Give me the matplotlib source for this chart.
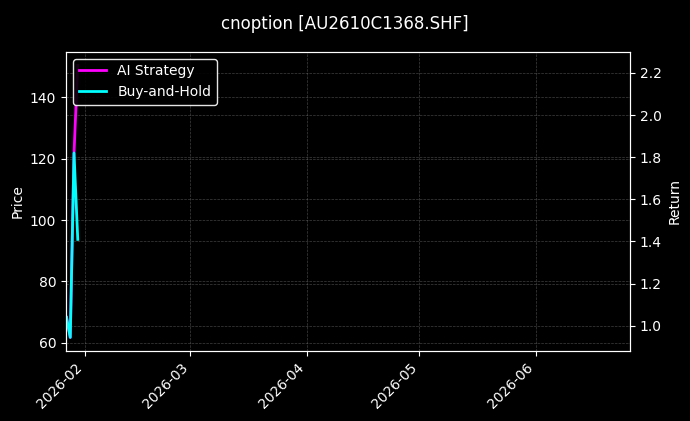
import matplotlib
matplotlib.use("Agg")
import matplotlib.pyplot as plt
import matplotlib.dates as mdates
import numpy as np
import pandas as pd

# values
dates = pd.to_datetime(["2026-01-27", "2026-01-28", "2026-01-29", "2026-01-30"])
ai_strategy = [1.04, 0.945, 1.82, 2.235]
buy_and_hold = [1.04, 0.945, 1.82, 1.41]

plt.style.use("dark_background")

fig = plt.figure(figsize=(6.9, 4.21), dpi=100)
ax = fig.add_axes([0.0957, 0.166, 0.8173, 0.711])
ax2 = ax.twinx()

ax2.plot(dates, ai_strategy, color="#ff00ff", lw=2, label="AI Strategy")
ax2.plot(dates, buy_and_hold, color="#00ffff", lw=2, label="Buy-and-Hold")

ax.set_ylim(57.3, 154.9)
ax2.set_ylim(0.88, 2.30)
ax.set_xlim(pd.Timestamp("2026-01-26 21:00"), pd.Timestamp("2026-06-26 03:00"))

ax.xaxis.set_major_locator(mdates.MonthLocator())
ax.xaxis.set_major_formatter(mdates.DateFormatter("%Y-%m"))
for lab in ax.get_xticklabels():
    lab.set_rotation(45)
    lab.set_ha("right")

ax.set_ylabel("Price")
ax2.set_ylabel("Return")

ax.grid(True, color="gray", ls="--", lw=0.5, alpha=0.5)
ax2.grid(True, color="gray", ls="--", lw=0.5, alpha=0.5)

ax2.legend(loc="upper left", facecolor="black", edgecolor="white", framealpha=0.9)

fig.suptitle("cnoption [AU2610C1368.SHF]", y=0.965, fontsize=12)

fig.savefig("out.png", dpi=100)
